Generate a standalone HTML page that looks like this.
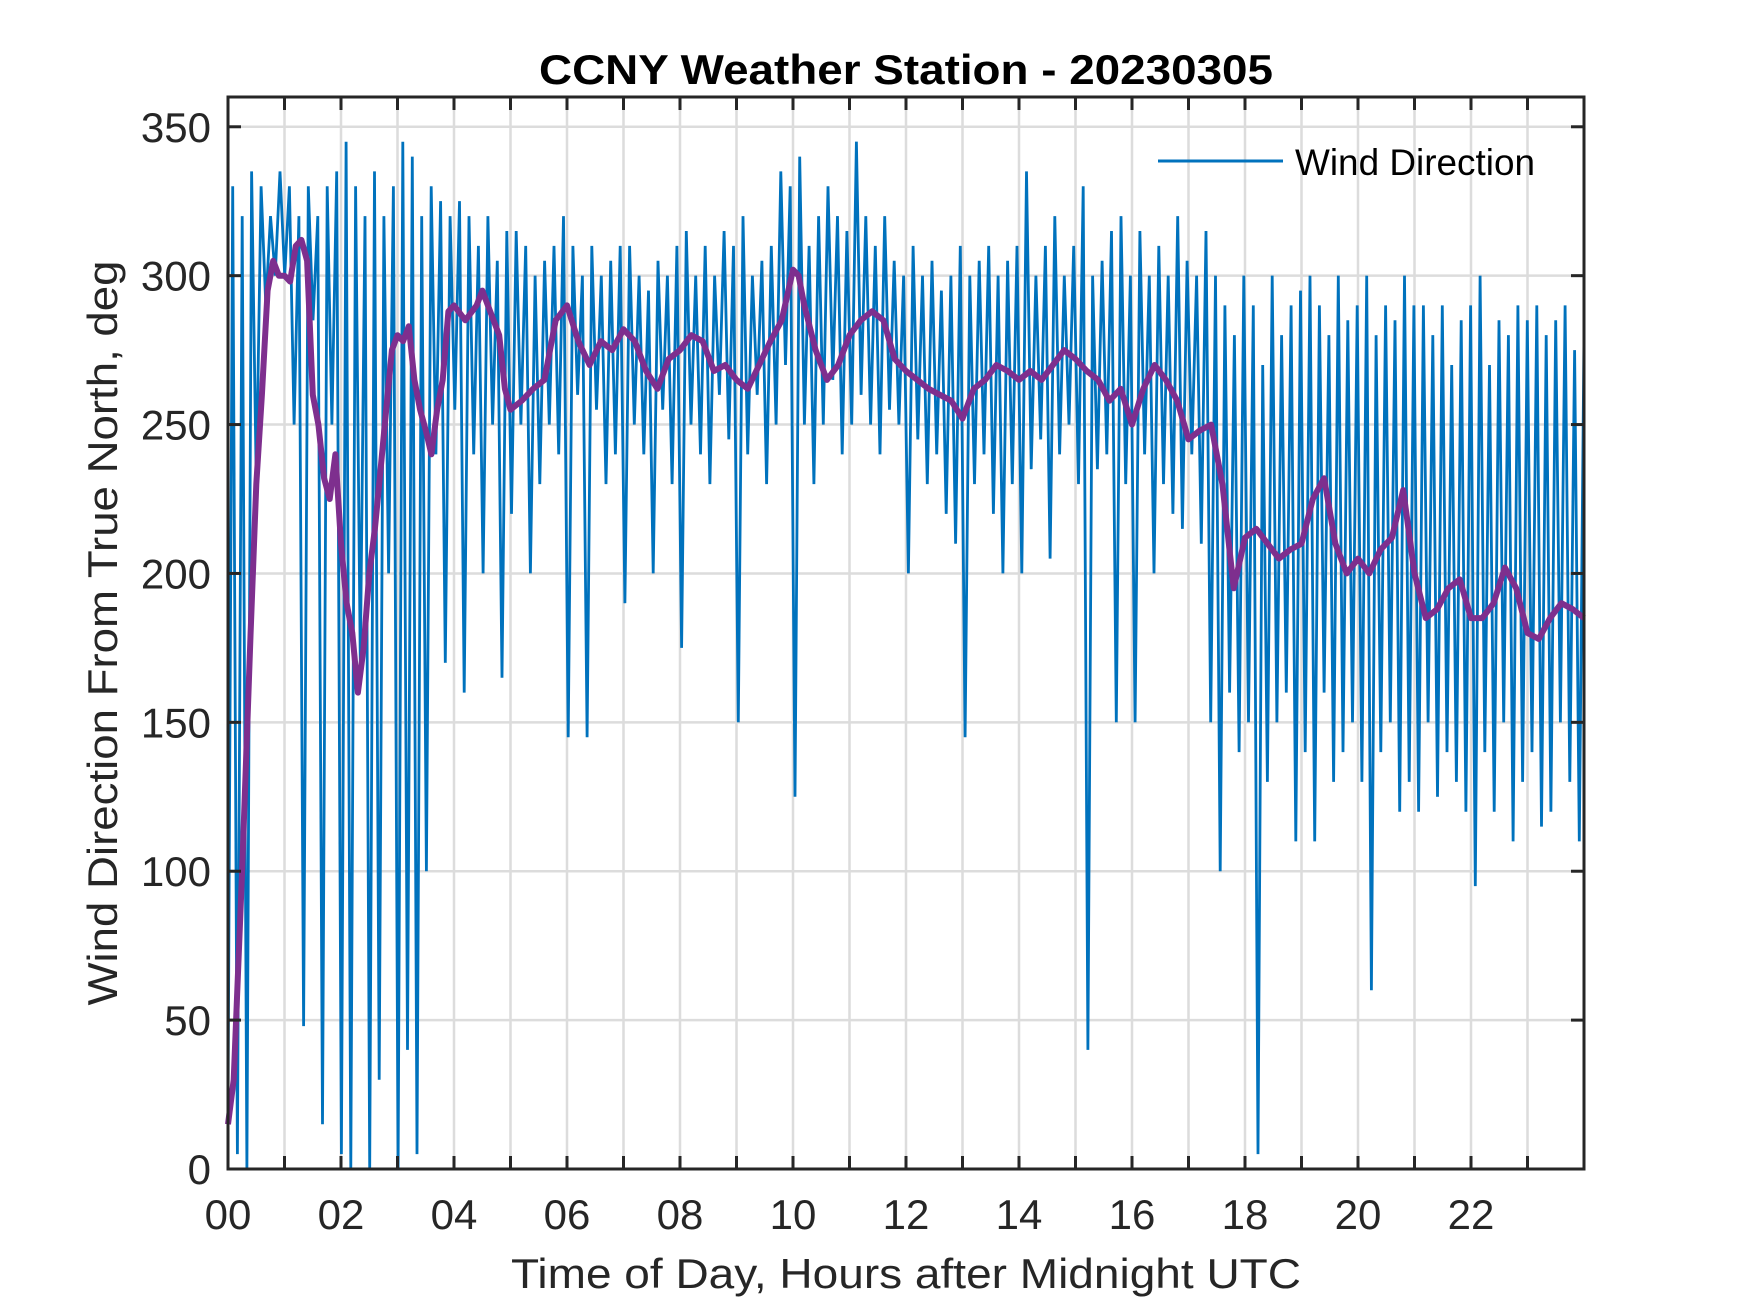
<!DOCTYPE html>
<html><head><meta charset="utf-8"><style>
html,body{margin:0;padding:0;background:#fff;}
svg{display:block;font-family:"Liberation Sans",Arial,sans-serif;}
</style></head><body>
<svg id="chart" width="1750" height="1313" viewBox="0 0 1750 1313" xmlns="http://www.w3.org/2000/svg">
<rect width="1750" height="1313" fill="#fff"/>
<g id="grid"></g>
<g id="series"></g>
<g id="axes"></g>
<text x="906" y="84" text-anchor="middle" font-weight="bold" font-size="42" fill="#000" textLength="734" lengthAdjust="spacingAndGlyphs">CCNY Weather Station - 20230305</text>
<text x="906" y="1288" text-anchor="middle" font-size="42" fill="#262626" textLength="790" lengthAdjust="spacingAndGlyphs">Time of Day, Hours after Midnight UTC</text>
<text transform="translate(117,633) rotate(-90)" text-anchor="middle" font-size="42" fill="#262626" textLength="745" lengthAdjust="spacingAndGlyphs">Wind Direction From True North, deg</text>
<g>
<line x1="1158" y1="161" x2="1283" y2="161" stroke="#0072BD" stroke-width="3"/>
<text x="1295" y="175" font-size="37" fill="#000" textLength="240" lengthAdjust="spacingAndGlyphs">Wind Direction</text>
</g>
</svg>
<script>
const xTickLabels = ["00","02","04","06","08","10","12","14","16","18","20","22"];
const yTickValues = [0,50,100,150,200,250,300,350];
const blueValues = [
20,330,5,320,0,335,230,330,290,320,300,335,
300,330,250,320,48,330,285,320,15,330,250,335,
5,345,0,330,170,320,0,335,30,320,200,330,
0,345,40,340,5,320,100,330,240,325,170,320,
255,325,160,320,240,310,200,320,250,305,165,315,
220,315,250,310,200,300,230,305,250,310,240,320,
145,310,260,300,145,310,255,300,230,305,240,310,
190,310,250,300,240,295,200,305,255,300,230,310,
175,315,250,300,240,310,230,300,260,315,245,310,
150,320,240,300,260,305,230,310,250,335,270,330,
125,340,250,310,230,320,250,330,265,320,240,315,
250,345,260,320,250,310,240,320,255,305,250,300,
200,310,245,300,230,305,240,295,220,300,210,310,
145,300,230,305,240,310,220,300,200,305,230,310,
200,335,235,300,245,310,205,320,240,300,250,310,
230,330,40,300,235,305,240,315,150,320,230,300,
150,315,240,300,200,310,230,300,220,320,215,305,
240,300,210,315,150,300,100,290,160,280,140,300,
150,290,5,270,130,300,150,280,160,290,110,295,
140,300,110,290,160,280,130,300,140,285,150,290,
130,300,60,280,140,290,150,285,120,300,130,290,
120,290,150,280,125,290,140,270,130,285,120,290,
95,300,140,270,120,285,150,280,110,290,130,285,
140,290,115,280,120,285,150,290,130,275,110,280];
const purpleHours = [0,0.1,0.25,0.4,0.5,0.6,0.7,0.8,0.9,1.0,1.1,1.2,1.3,1.4,1.5,1.6,1.7,1.8,1.9,2.0,2.1,2.2,2.3,2.4,2.5,2.6,2.7,2.8,2.9,3.0,3.1,3.2,3.3,3.4,3.5,3.6,3.7,3.8,3.9,4.0,4.2,4.4,4.5,4.6,4.8,4.9,5.0,5.2,5.4,5.6,5.7,5.8,6.0,6.2,6.4,6.6,6.8,7.0,7.2,7.4,7.6,7.8,8.0,8.2,8.4,8.6,8.8,9.0,9.2,9.4,9.6,9.8,10.0,10.1,10.2,10.4,10.6,10.8,11.0,11.2,11.4,11.6,11.8,12.0,12.2,12.4,12.6,12.8,13.0,13.2,13.4,13.6,13.8,14.0,14.2,14.4,14.6,14.8,15.0,15.2,15.4,15.6,15.8,16.0,16.2,16.4,16.6,16.8,17.0,17.2,17.4,17.6,17.8,18.0,18.2,18.4,18.6,18.8,19.0,19.2,19.4,19.6,19.8,20.0,20.2,20.4,20.6,20.8,21.0,21.2,21.4,21.6,21.8,22.0,22.2,22.4,22.6,22.8,23.0,23.2,23.4,23.6,23.8,24.0];
const purpleValues = [15,30,100,180,230,260,295,305,300,300,298,310,312,305,260,250,232,225,240,210,190,180,160,175,200,215,235,255,275,280,278,283,265,255,248,240,255,265,288,290,285,290,295,290,280,262,255,258,262,265,275,285,290,278,270,278,275,282,278,268,262,272,275,280,278,268,270,265,262,270,278,285,302,300,290,275,265,270,280,285,288,285,272,268,265,262,260,258,252,262,265,270,268,265,268,265,270,275,272,268,265,258,262,250,262,270,265,258,245,248,250,230,195,212,215,210,205,208,210,225,232,210,200,205,200,208,212,228,200,185,188,195,198,185,185,190,202,195,180,178,185,190,188,185];

const X0=228, X1=1584, Y0=1169, Y1=97;
const xScale = h => X0 + (h/24)*(X1-X0);
const yScale = v => Y0 - (v/360)*(Y0-Y1);
const NS="http://www.w3.org/2000/svg";
function mk(tag, parent){const e=document.createElementNS(NS,tag);parent.appendChild(e);return e;}
const grid=document.getElementById('grid'), series=document.getElementById('series'), axes=document.getElementById('axes');

for(let h=1;h<24;h++){
  const l=mk('line',grid);
  
  
  l.setAttribute('x1',xScale(h));l.setAttribute('x2',xScale(h));l.setAttribute('y1',Y1);l.setAttribute('y2',Y0);
  l.setAttribute('stroke','#dcdcdc');l.setAttribute('stroke-width','2.5');
}
yTickValues.forEach(v=>{
  if(v===0)return;
  const l=mk('line',grid);
  
  
  l.setAttribute('x1',X0);l.setAttribute('x2',X1);l.setAttribute('y1',yScale(v));l.setAttribute('y2',yScale(v));
  l.setAttribute('stroke','#dcdcdc');l.setAttribute('stroke-width','2.5');
});

const bn=blueValues.length;
const bp=blueValues.map((v,i)=>xScale(i*24/(bn-1)).toFixed(1)+','+yScale(v).toFixed(1)).join(' ');
const bl=mk('polyline',series);


bl.setAttribute('points',bp);bl.setAttribute('fill','none');bl.setAttribute('stroke','#0072BD');bl.setAttribute('stroke-width','2.8');

const pp=purpleValues.map((v,i)=>xScale(purpleHours[i]).toFixed(1)+','+yScale(v).toFixed(1)).join(' ');
const pl=mk('polyline',series);


pl.setAttribute('points',pp);pl.setAttribute('fill','none');pl.setAttribute('stroke','#7E2F8E');pl.setAttribute('stroke-width','6');pl.setAttribute('stroke-linejoin','round');

const box=mk('rect',axes);


box.setAttribute('x',X0);box.setAttribute('y',Y1);box.setAttribute('width',X1-X0);box.setAttribute('height',Y0-Y1);
box.setAttribute('fill','none');box.setAttribute('stroke','#262626');box.setAttribute('stroke-width','3');

for(let h=1;h<24;h++){
  [[Y0,Y0-13],[Y1,Y1+13]].forEach(p=>{
    const t=mk('line',axes);
    
    
    t.setAttribute('x1',xScale(h));t.setAttribute('x2',xScale(h));t.setAttribute('y1',p[0]);t.setAttribute('y2',p[1]);
    t.setAttribute('stroke','#262626');t.setAttribute('stroke-width','3');
  });
}
xTickLabels.forEach((s,i)=>{
  const t=mk('text',axes);
  
  
  t.setAttribute('x',xScale(i*2));t.setAttribute('y',1229);t.setAttribute('text-anchor','middle');
  t.setAttribute('font-size','42');t.setAttribute('fill','#262626');t.textContent=s;
});
yTickValues.forEach(v=>{
  [[X0,X0+13],[X1,X1-13]].forEach(p=>{
    const t=mk('line',axes);
    
    
    t.setAttribute('x1',p[0]);t.setAttribute('x2',p[1]);t.setAttribute('y1',yScale(v));t.setAttribute('y2',yScale(v));
    t.setAttribute('stroke','#262626');t.setAttribute('stroke-width','3');
  });
  const t=mk('text',axes);
  
  
  t.setAttribute('x',211);t.setAttribute('y',yScale(v)+15);t.setAttribute('text-anchor','end');
  t.setAttribute('font-size','42');t.setAttribute('fill','#262626');t.textContent=String(v);
});
</script>
</body></html>
